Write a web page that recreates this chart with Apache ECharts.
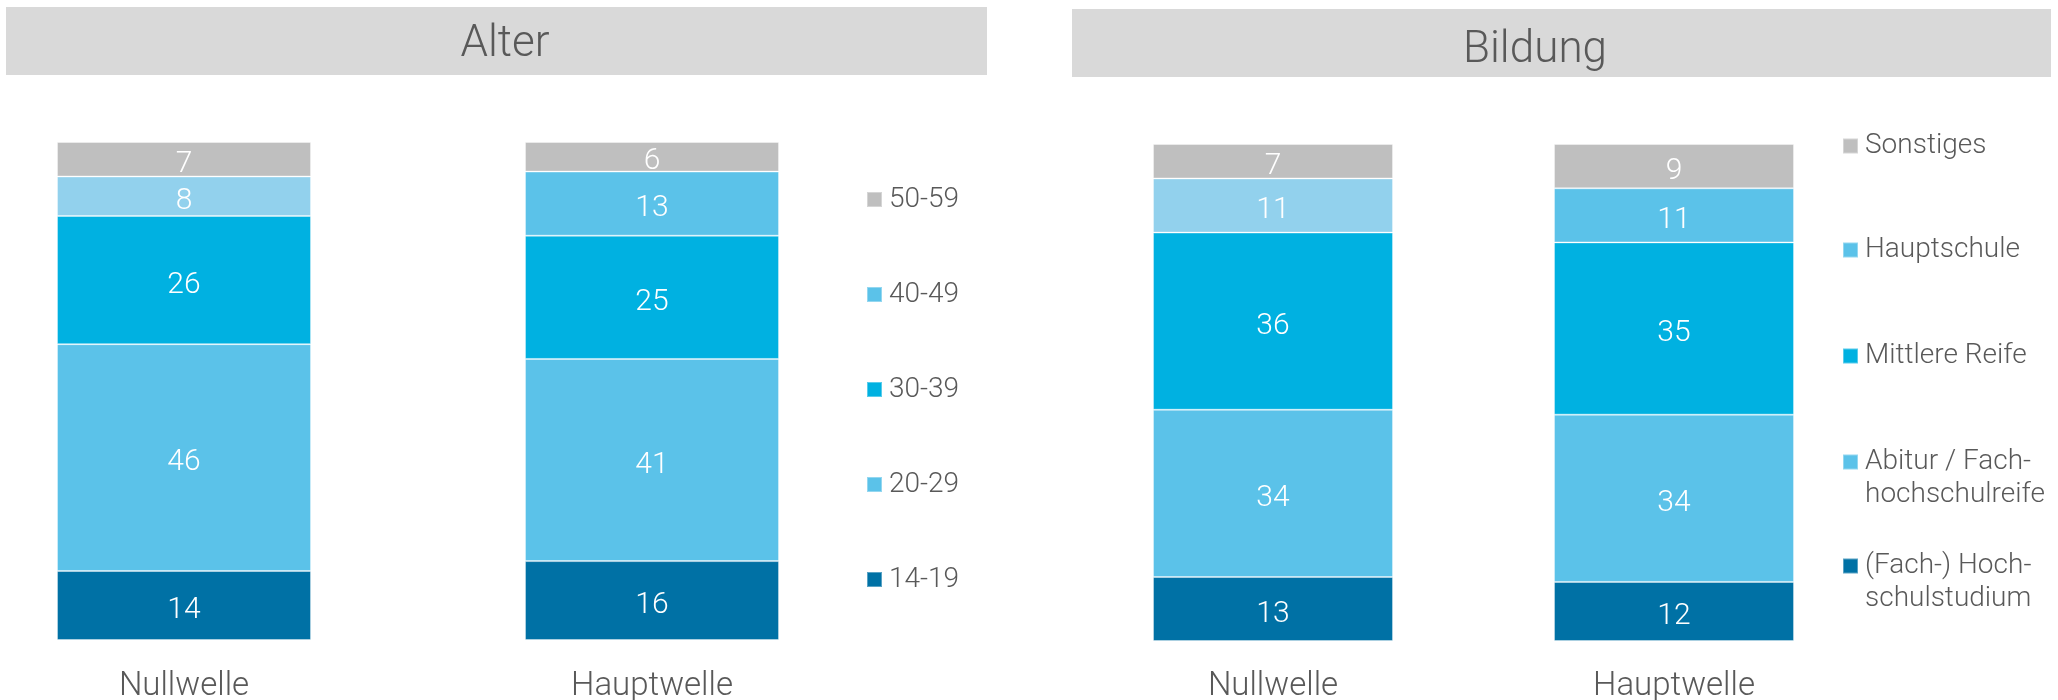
<!DOCTYPE html>
<html>
<head>
    <meta charset="utf-8" />
    <title>Alter und Bildung</title>
    <script src="https://cdn.jsdelivr.net/npm/echarts@6/dist/echarts.min.js"></script>
    <style>
        html, body { margin: 0; padding: 0; background: #ffffff; }
        #chart { width: 2058px; height: 700px; }
    </style>
</head>
<body>
<div id="chart"></div>
<script type="text/javascript">
    // Kategorien (x-Achse)
    var wellen = ['Nullwelle', 'Hauptwelle'];

    // Alter - Reihen von unten nach oben
    var alterGruppen = ['14-19', '20-29', '30-39', '40-49', '50-59'];
    var alter1419 = [14, 16];
    var alter2029 = [46, 41];
    var alter3039 = [26, 25];
    var alter4049 = [8, 13];
    var alter5059 = [7, 6];

    // Bildung - Reihen von unten nach oben
    var bildungGruppen = ['(Fach-) Hoch-\nschulstudium', 'Abitur / Fach-\nhochschulreife', 'Mittlere Reife', 'Hauptschule', 'Sonstiges'];
    var bildHochschule = [13, 12];
    var bildAbitur = [34, 34];
    var bildMittlere = [36, 35];
    var bildHaupt = [11, 11];
    var bildSonst = [7, 9];

    var farben = ['#0071a5', '#5bc2e9', '#00b1e1', '#5bc2e9', '#bfbfbf'];
    var farbeHell = '#92d1ed';   // Nullwelle, vierte Schicht
    var schrift = 'Roboto';
    var textGrau = '#595959';

    var myChart = echarts.init(document.getElementById('chart'));

    // eine gestapelte Balkenreihe bauen
    function reihe(name, werte, farbe, idx, stapel, breite, hellErster) {
        return {
            name: name,
            type: 'bar',
            stack: stapel,
            xAxisIndex: idx,
            yAxisIndex: idx,
            barWidth: breite,
            itemStyle: { color: farbe, borderColor: 'rgba(255,255,255,0.35)', borderWidth: 1 },
            label: {
                show: true,
                position: 'inside',
                offset: [0, 5],
                color: '#ffffff',
                fontFamily: schrift,
                fontWeight: 300,
                fontSize: 30
            },
            data: werte.map(function (v, i) {
                if (hellErster && i === 0) {
                    return { value: v, itemStyle: { color: farbeHell } };
                }
                return v;
            })
        };
    }

    var alterWerte = [alter1419, alter2029, alter3039, alter4049, alter5059];
    var bildWerte = [bildHochschule, bildAbitur, bildMittlere, bildHaupt, bildSonst];

    var series = [];
    for (var i = 0; i < 5; i++) {
        series.push(reihe(alterGruppen[i], alterWerte[i], farben[i], 0, 'alter', 254, i === 3));
    }
    for (var j = 0; j < 5; j++) {
        series.push(reihe(bildungGruppen[j], bildWerte[j], farben[j], 1, 'bildung', 240, j === 3));
    }

    var legendText = {
        fontFamily: schrift,
        fontWeight: 300,
        fontSize: 28,
        lineHeight: 33,
        color: textGrau,
        padding: [0, 0, 0, 2]
    };

    // rechte Legende: ein Eintrag je Legende, damit die Zweizeiler oben am Symbol stehen
    var rechtsMitte = [146, 250, 356, 462, 566];
    var rechtsNamen = bildungGruppen.slice().reverse();
    var legenden = [{
        orient: 'vertical',
        left: 861,
        top: 178,
        padding: 5,
        icon: 'rect',
        itemWidth: 15,
        itemHeight: 15,
        itemGap: 62,
        selectedMode: false,
        data: alterGruppen.slice().reverse(),
        textStyle: legendText
    }];
    rechtsNamen.forEach(function (n, k) {
        var zweizeilig = n.indexOf('\n') >= 0;
        legenden.push({
            orient: 'vertical',
            left: 1837,
            top: rechtsMitte[k] - (zweizeilig ? 49.5 : 16.5) - 5,
            padding: 5,
            icon: 'rect',
            itemWidth: 15,
            itemHeight: 15,
            selectedMode: false,
            data: [n],
            // leere erste Zeile, damit die erste Textzeile neben dem Symbol steht
            formatter: function (name) {
                return name.indexOf('\n') >= 0 ? ' \n' + name : name;
            },
            textStyle: legendText
        });
    });

    function xAchse(idx, abstand) {
        return {
            type: 'category',
            gridIndex: idx,
            data: wellen,
            boundaryGap: false,
            axisLine: { show: false },
            axisTick: { show: false },
            splitLine: { show: false },
            axisLabel: {
                margin: abstand,
                color: textGrau,
                fontFamily: schrift,
                fontWeight: 300,
                fontSize: 33
            }
        };
    }

    var option = {
        animation: false,
        backgroundColor: '#ffffff',
        graphic: [
            { type: 'rect', shape: { x: 6, y: 7, width: 981, height: 68 }, style: { fill: '#d9d9d9' }, z: -1 },
            { type: 'rect', shape: { x: 1072, y: 9, width: 979, height: 68 }, style: { fill: '#d9d9d9' }, z: -1 },
            { type: 'text', x: 505, y: 45, style: { text: 'Alter', fill: textGrau, font: '300 44px Roboto', textAlign: 'center', textVerticalAlign: 'middle' } },
            { type: 'text', x: 1535, y: 51, style: { text: 'Bildung', fill: textGrau, font: '300 44px Roboto', textAlign: 'center', textVerticalAlign: 'middle' } }
        ],
        legend: legenden,
        grid: [
            { left: 184, width: 468, top: 142, height: 498, outerBoundsMode: 'none' },
            { left: 1273, width: 401, top: 144, height: 497, outerBoundsMode: 'none' }
        ],
        xAxis: [xAchse(0, 30), xAchse(1, 29)],
        yAxis: [
            { type: 'value', gridIndex: 0, min: 0, max: 101, show: false },
            { type: 'value', gridIndex: 1, min: 0, max: 101, show: false }
        ],
        series: series
    };
    myChart.setOption(option);
</script>
</body>
</html>
